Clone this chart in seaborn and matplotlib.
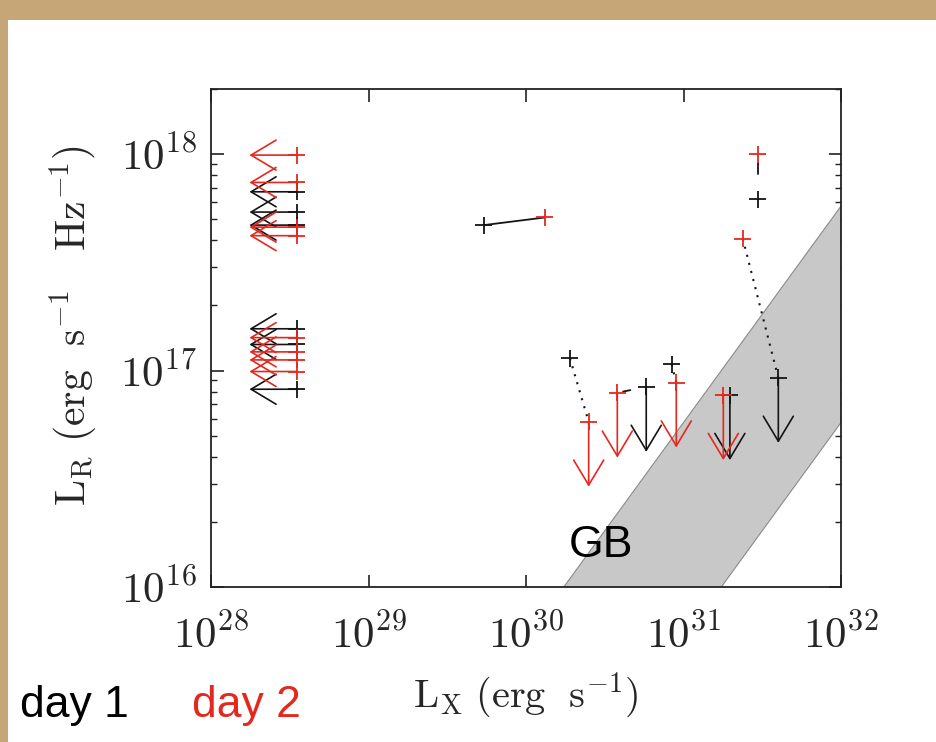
import numpy as np
import pandas as pd
import matplotlib
matplotlib.use("Agg")
import matplotlib.pyplot as plt
import seaborn as sns
from matplotlib.patches import Rectangle

# ---------------- data ----------------
x_ticks = [1e28, 1e29, 1e30, 1e31, 1e32]
x_tick_labels = [r"$10^{28}$", r"$10^{29}$", r"$10^{30}$", r"$10^{31}$", r"$10^{32}$"]
y_ticks = [1e16, 1e17, 1e18]
y_tick_labels = [r"$10^{16}$", r"$10^{17}$", r"$10^{18}$"]

# sources with X-ray upper limits (left-pointing arrows)
left_lx_limit = 3.5e28
day1_left_lr = [6.7e17, 5.4e17, 4.7e17, 1.56e17, 1.32e17, 8.2e16]
day2_left_lr = [9.9e17, 7.4e17, 4.6e17, 4.2e17, 1.42e17, 1.22e17, 1.12e17, 9.9e16]

# detections in both bands
day1_det_lx = [5.4e29, 1.9e30, 8.4e30, 2.97e31]
day1_det_lr = [4.7e17, 1.14e17, 1.07e17, 6.2e17]
day2_det_lx = [1.32e30, 2.97e31, 2.38e31]
day2_det_lr = [5.1e17, 1.0e18, 4.07e17]

# radio upper limits (down arrows)
day1_ul_lx = [5.8e30, 1.97e31, 4.0e31]
day1_ul_lr = [8.4e16, 7.7e16, 9.25e16]
day2_ul_lx = [2.5e30, 3.8e30, 9.0e30, 1.79e31]
day2_ul_lr = [5.8e16, 7.9e16, 8.8e16, 7.7e16]

# Guedel-Benz band: log(LX/LR) limits
gb_log_ratio_low = 14.24
gb_log_ratio_high = 15.24

RED = "#e5281e"
BLACK = "#141414"

# ---------------- plot ----------------
sns.set_theme(style="ticks")
plt.rcParams["font.family"] = ["DejaVu Serif"]
plt.rcParams["mathtext.fontset"] = "cm"

fig = plt.figure(figsize=(9.37, 7.42), dpi=100)
fig.patch.set_facecolor("#c6a676")
fig.patches.append(Rectangle((8 / 937, 0), 1, (742 - 20) / 742,
                             transform=fig.transFigure, facecolor="white",
                             edgecolor="none", zorder=-5))
ax = fig.add_axes([211 / 937, 1 - 587 / 742, 630 / 937, 498 / 742])
ax.set_zorder(2)
ax.set_facecolor("white")
ax.set_xscale("log")
ax.set_yscale("log")
ax.set_xlim(1e28, 1e32)
ax.set_ylim(1e16, 2e18)

# GB band
gx = np.array([1e28, 1e32])
ax.fill_between(gx, gx / 10**gb_log_ratio_high, gx / 10**gb_log_ratio_low,
                facecolor="#c8c8c8", edgecolor="#8a8a8a", lw=0.8, zorder=1)
ax.text(3.0e30, 1.56e16, "GB", fontsize=32, family="Liberation Sans",
        ha="center", va="center", color="black", zorder=2)

arrow_dex = 0.3
astyle = "->,head_length=1.5,head_width=0.9"


def arrow(x0, y0, x1, y1, color):
    ax.annotate("", xy=(x1, y1), xytext=(x0, y0), xycoords="data",
                arrowprops=dict(arrowstyle=astyle, color=color, lw=1.2,
                                shrinkA=0, shrinkB=0), zorder=3)


# connecting lines
lw_link = 1.3
# solid full link
ax.plot([day1_det_lx[0], day2_det_lx[0]], [day1_det_lr[0], day2_det_lr[0]],
        color=BLACK, lw=lw_link, zorder=2)
# dotted links
dotted = [((day1_det_lx[1], day1_det_lr[1]), (day2_ul_lx[0], day2_ul_lr[0])),
          ((day1_det_lx[2], day1_det_lr[2]), (day2_ul_lx[2], day2_ul_lr[2])),
          ((day2_det_lx[2], day2_det_lr[2]), (day1_ul_lx[2], day1_ul_lr[2]))]
for (xa, ya), (xb, yb) in dotted:
    ax.plot([xa, xb], [ya, yb], color=BLACK, lw=1.5, ls=(0, (1, 3)), zorder=2)
# short partial links
short = [((day2_ul_lx[1], day2_ul_lr[1]), (day1_ul_lx[0], day1_ul_lr[0])),
         ((day2_det_lx[1], day2_det_lr[1]), (day1_det_lx[3], day1_det_lr[3]))]
for (xa, ya), (xb, yb) in short:
    f = np.array([0.2, 0.45])
    lx = 10 ** (np.log10(xa) + f * (np.log10(xb) - np.log10(xa)))
    ly = 10 ** (np.log10(ya) + f * (np.log10(yb) - np.log10(ya)))
    ax.plot(lx, ly, color=BLACK, lw=lw_link, zorder=2)

# arrows
for lr in day1_left_lr:
    arrow(left_lx_limit, lr, left_lx_limit / 10**arrow_dex, lr, BLACK)
for lr in day2_left_lr:
    arrow(left_lx_limit, lr, left_lx_limit / 10**arrow_dex, lr, RED)
for lx, lr in zip(day1_ul_lx, day1_ul_lr):
    arrow(lx, lr, lx, lr / 10**arrow_dex, BLACK)
for lx, lr in zip(day2_ul_lx, day2_ul_lr):
    arrow(lx, lr, lx, lr / 10**arrow_dex, RED)

# plus markers
rows = []
for lr in day1_left_lr:
    rows.append((left_lx_limit, lr, "day 1"))
for lr in day2_left_lr:
    rows.append((left_lx_limit, lr, "day 2"))
for lx, lr in zip(day1_det_lx + day1_ul_lx, day1_det_lr + day1_ul_lr):
    rows.append((lx, lr, "day 1"))
for lx, lr in zip(day2_det_lx + day2_ul_lx, day2_det_lr + day2_ul_lr):
    rows.append((lx, lr, "day 2"))
df = pd.DataFrame(rows, columns=["LX", "LR", "day"])
sns.scatterplot(data=df, x="LX", y="LR", hue="day", marker="+", s=150,
                palette={"day 1": BLACK, "day 2": RED}, linewidth=1.3,
                legend=False, ax=ax, zorder=4)

# axes styling
for sp in ax.spines.values():
    sp.set_visible(True)
    sp.set_color("#222222")
    sp.set_linewidth(1.3)
ax.set_xticks(x_ticks)
ax.set_xticklabels(x_tick_labels)
ax.set_yticks(y_ticks)
ax.set_yticklabels(y_tick_labels)
ax.tick_params(which="both", direction="in", top=True, right=True,
               color="#222222")
ax.tick_params(which="major", length=9, width=1.2, labelsize=31)
ax.tick_params(which="minor", length=4.5, width=1.0)
ax.tick_params(axis="x", which="major", pad=20)
ax.tick_params(axis="y", which="major", pad=10)

ax.set_xlabel(r"$\mathrm{L_X\ (erg\ \ s^{-1})}$", fontsize=29, labelpad=10)
ax.set_ylabel(r"$\mathrm{L_R\ (erg\ \ s^{-1}\ \ \ Hz^{-1})}$", fontsize=30,
              labelpad=14)
ax.yaxis.set_label_coords(-0.178, 0.525)

fig.text(20 / 937, 1 - 705 / 742, "day 1", color="black", fontsize=32,
         family="Liberation Sans", ha="left", va="center")
fig.text(192 / 937, 1 - 705 / 742, "day 2", color=RED, fontsize=32,
         family="Liberation Sans", ha="left", va="center")

fig.savefig("out.png", dpi=100, facecolor=fig.get_facecolor())
